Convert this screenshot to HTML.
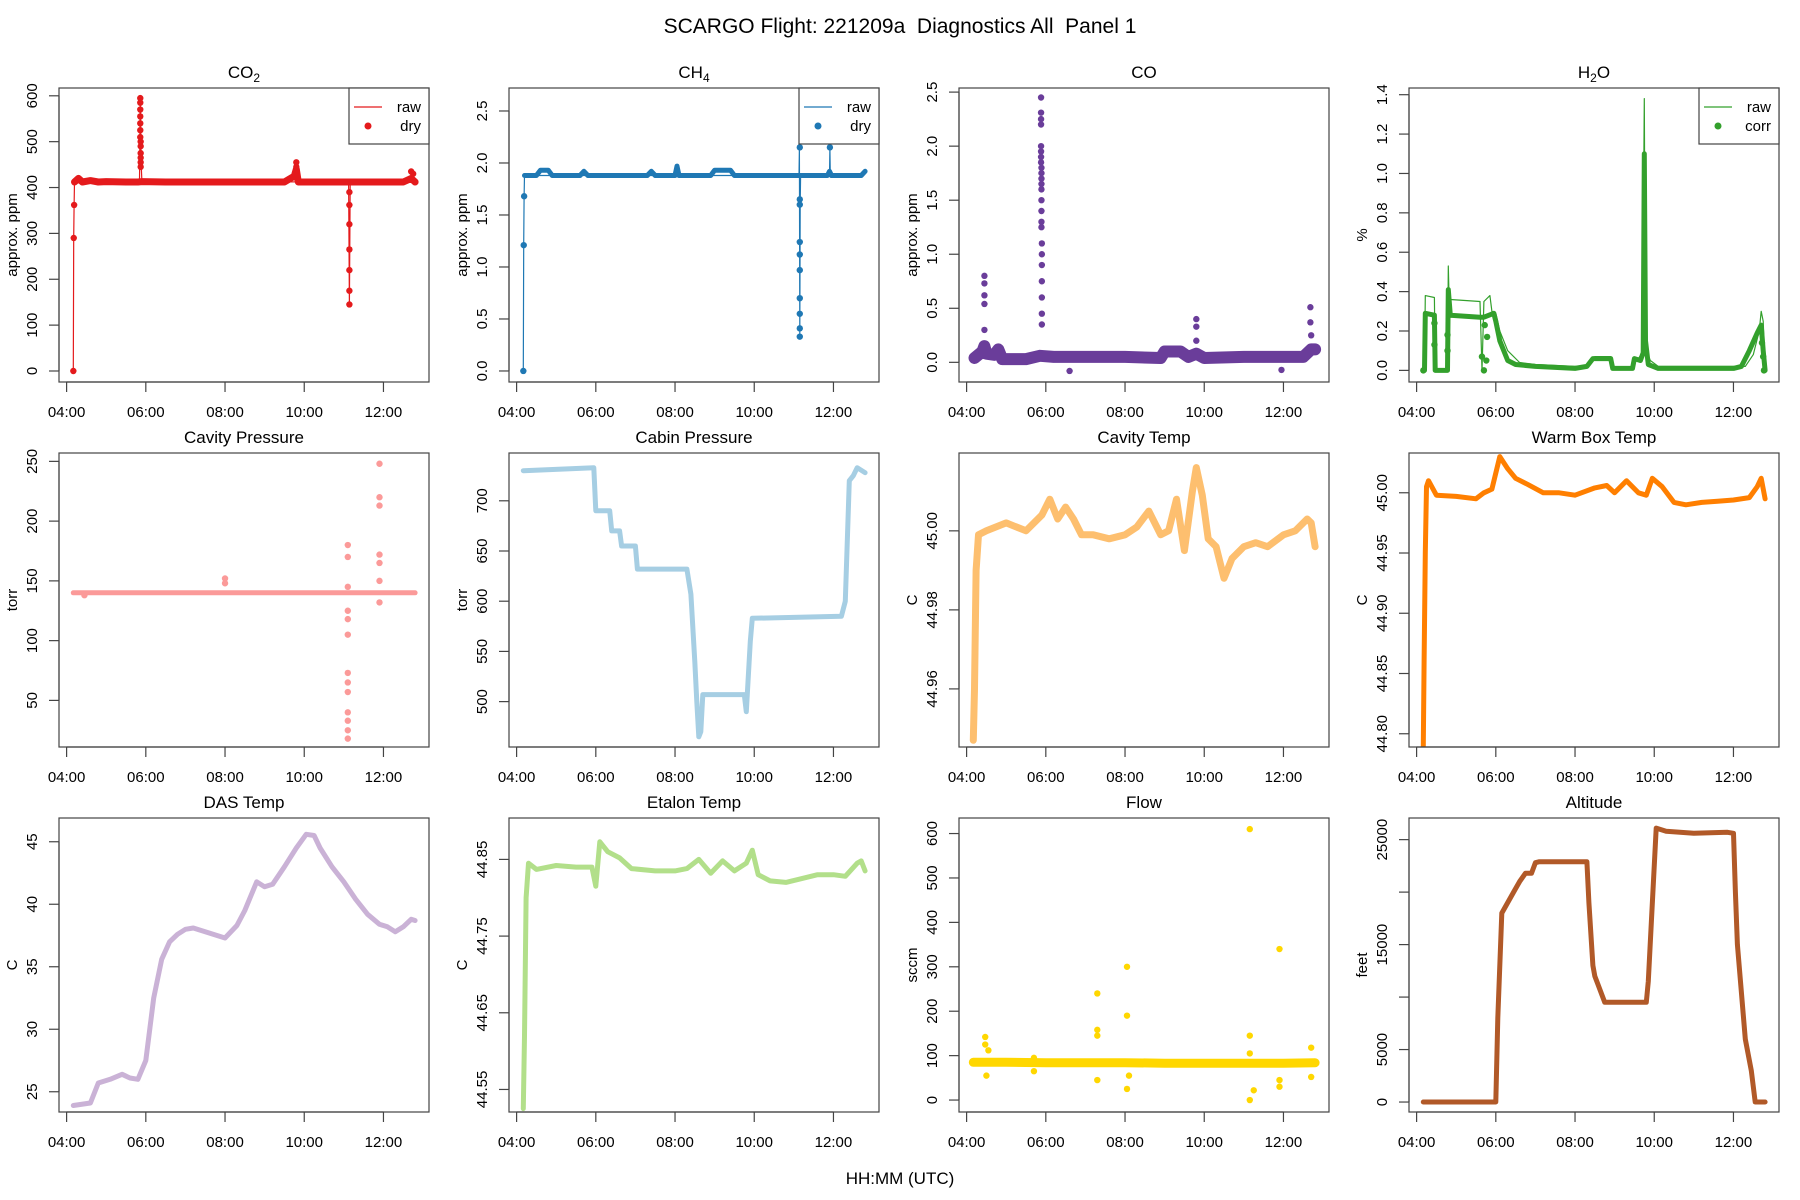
<!DOCTYPE html>
<html><head><meta charset="utf-8"><title>SCARGO Diagnostics</title>
<style>
html,body{margin:0;padding:0;background:#fff;}
svg{display:block;font-family:"Liberation Sans",Arial,sans-serif;}
</style></head>
<body>
<svg id="chart" width="1800" height="1200" viewBox="0 0 1800 1200" xmlns="http://www.w3.org/2000/svg">
<rect x="0" y="0" width="1800" height="1200" fill="#fff"/>
<text x="900" y="33" font-size="21" text-anchor="middle" style="white-space:pre" xml:space="preserve">SCARGO Flight: 221209a  Diagnostics All  Panel 1</text>
<text x="900" y="1184" font-size="17" text-anchor="middle">HH:MM (UTC)</text>
</svg>
<script>
// ---- shared x-axis data ----
const xTickHours = [4, 6, 8, 10, 12];
const xTickLabels = ["04:00", "06:00", "08:00", "10:00", "12:00"];

// ---- CO2 ----
const co2Times  = [4.2,4.3,4.4,4.6,4.8,5.0,5.5,5.8,5.9,6.5,7.3,8.0,9.0,9.5,9.75,9.8,9.85,10.5,11.1,11.2,11.5,12.0,12.5,12.7,12.8];
const co2Values = [412,420,412,415,412,413,412,412,413,412,412,412,412,412,425,440,412,412,412,412,412,412,412,420,412];
const co2RawTimes  = [4.17,4.18,4.19,4.2,5.84,5.86,5.88,5.9,11.12,11.14,11.16,11.18];
const co2RawValues = [0,290,362,412,412,595,455,413,412,145,412,412];
const co2PtTimes  = [4.17,4.18,4.19,5.86,5.86,5.86,5.86,5.86,5.86,5.86,5.87,5.87,5.87,5.87,5.87,5.87,11.14,11.14,11.14,11.14,11.14,11.14,11.14,9.8,9.8,12.7,12.75];
const co2PtValues = [0,290,362,595,585,570,555,540,525,510,500,490,475,465,455,445,145,175,220,265,320,362,390,455,445,435,430];

// ---- CH4 ----
const ch4Times  = [4.2,4.5,4.6,4.8,4.9,5.6,5.7,5.8,7.3,7.4,7.5,8.0,8.05,8.1,8.9,9.0,9.4,9.5,11.1,11.2,11.85,11.9,11.95,12.7,12.8];
const ch4Values = [1.88,1.88,1.93,1.93,1.88,1.88,1.92,1.88,1.88,1.92,1.88,1.88,1.97,1.88,1.88,1.93,1.93,1.88,1.88,1.88,1.88,1.92,1.88,1.88,1.92];
const ch4RawTimes  = [4.17,4.18,4.19,4.2,11.13,11.14,11.15,11.16,11.17,11.9,11.91,11.92];
const ch4RawValues = [0,1.21,1.68,1.88,1.88,2.15,0.33,1.6,1.88,1.88,2.15,1.88];
const ch4PtTimes  = [4.17,4.18,4.19,11.15,11.15,11.15,11.15,11.15,11.15,11.15,11.15,11.15,11.15,11.91];
const ch4PtValues = [0,1.21,1.68,0.33,0.41,0.55,0.7,0.97,1.12,1.24,1.6,1.65,2.15,2.15];

// ---- CO ----
const coTimes  = [4.2,4.4,4.45,4.5,4.7,4.8,4.9,5.5,5.85,6.2,7.0,8.0,8.9,9.0,9.4,9.6,9.8,10.0,11.0,11.9,12.5,12.7,12.8];
const coValues = [0.04,0.1,0.15,0.08,0.07,0.12,0.03,0.03,0.06,0.05,0.05,0.05,0.04,0.1,0.1,0.05,0.08,0.04,0.05,0.05,0.05,0.12,0.12];
const coPtTimes  = [4.45,4.45,4.45,4.45,4.45,5.88,5.88,5.88,5.88,5.88,5.88,5.88,5.88,5.89,5.89,5.89,5.89,5.89,5.89,5.89,5.89,5.89,5.9,5.9,5.9,5.9,5.9,5.9,5.9,9.8,9.8,9.8,12.68,12.68,12.7,6.6,11.95];
const coPtValues = [0.8,0.73,0.62,0.54,0.3,2.45,2.31,2.25,2.2,2.0,1.95,1.9,1.85,1.8,1.75,1.7,1.65,1.6,1.5,1.4,1.3,1.25,1.1,1.0,0.9,0.75,0.6,0.45,0.35,0.4,0.33,0.2,0.51,0.37,0.25,-0.08,-0.07];

// ---- H2O ----
const h2oRawTimes  = [4.17,4.2,4.22,4.45,4.47,4.5,4.78,4.8,4.82,4.85,5.6,5.65,5.7,5.85,5.9,6.0,6.1,6.3,6.6,7.0,8.0,8.3,8.5,8.9,9.0,9.4,9.5,9.6,9.7,9.75,9.77,9.8,9.9,10.1,11.0,12.0,12.3,12.5,12.65,12.7,12.75,12.8];
const h2oRawValues = [0,0,0.38,0.37,0.0,0.0,0.0,0.53,0.36,0.36,0.35,0.0,0.35,0.38,0.3,0.29,0.2,0.1,0.04,0.03,0.02,0.02,0.07,0.07,0.01,0.01,0.06,0.06,0.09,1.38,0.5,0.1,0.05,0.02,0.02,0.02,0.02,0.08,0.2,0.3,0.25,0.0];
const h2oTimes  = [4.17,4.2,4.22,4.45,4.47,4.5,4.78,4.8,4.85,5.6,5.65,5.7,5.95,6.0,6.1,6.3,6.5,7.0,8.0,8.3,8.45,8.9,8.95,9.45,9.5,9.65,9.72,9.75,9.78,9.85,10.1,11.0,12.0,12.2,12.4,12.6,12.7,12.75,12.8];
const h2oValues = [0,0,0.29,0.28,0.0,0.0,0.0,0.41,0.28,0.27,0.27,0.27,0.29,0.25,0.15,0.05,0.03,0.02,0.01,0.02,0.06,0.06,0.01,0.01,0.06,0.05,0.09,1.1,0.15,0.03,0.01,0.01,0.01,0.02,0.1,0.19,0.23,0.1,0.0];
const h2oPtTimes  = [4.17,4.45,4.45,4.78,4.78,5.65,5.7,5.72,5.78,5.76,12.72,12.75,12.77];
const h2oPtValues = [0.0,0.24,0.13,0.1,0.18,0.07,0.0,0.23,0.17,0.05,0.14,0.07,0.0];

// ---- Cavity Pressure ----
const cavPTimes  = [4.17,6.0,8.0,10.0,12.8];
const cavPValues = [140,140,140,140,140];
const cavPPtTimes  = [4.45,8.0,8.0,11.1,11.1,11.1,11.1,11.1,11.1,11.1,11.1,11.1,11.1,11.1,11.1,11.1,11.9,11.9,11.9,11.9,11.9,11.9,11.9];
const cavPPtValues = [138,152,148,180,170,145,125,118,105,73,65,57,40,33,25,18,248,220,213,172,165,150,132];

// ---- Cabin Pressure ----
const cabTimes  = [4.17,5.95,6.0,6.05,6.35,6.4,6.6,6.65,7.0,7.05,8.3,8.4,8.5,8.55,8.6,8.65,8.7,8.8,9.75,9.8,9.9,9.95,12.2,12.3,12.4,12.5,12.6,12.8];
const cabValues = [730,733,690,690,690,670,670,655,655,632,632,607,540,500,465,470,507,507,507,490,560,583,585,600,720,725,733,728];

// ---- Cavity Temp ----
const cavTTimes  = [4.17,4.2,4.24,4.3,4.5,5.0,5.5,5.9,6.1,6.3,6.5,6.7,6.9,7.2,7.6,8.0,8.3,8.6,8.9,9.1,9.3,9.5,9.7,9.8,9.95,10.1,10.3,10.5,10.7,11.0,11.3,11.6,12.0,12.3,12.6,12.7,12.8];
const cavTValues = [44.947,44.96,44.99,44.999,45.0,45.002,45.0,45.004,45.008,45.003,45.006,45.003,44.999,44.999,44.998,44.999,45.001,45.005,44.999,45.0,45.008,44.995,45.01,45.016,45.009,44.998,44.996,44.988,44.993,44.996,44.997,44.996,44.999,45.0,45.003,45.002,44.996];

// ---- Warm Box Temp ----
const wbTimes  = [4.17,4.19,4.22,4.25,4.3,4.5,5.0,5.5,5.7,5.9,6.1,6.3,6.5,6.8,7.2,7.6,8.0,8.5,8.8,9.0,9.3,9.6,9.8,9.95,10.2,10.5,10.8,11.2,11.6,12.0,12.4,12.6,12.7,12.8];
const wbValues = [44.79,44.86,44.95,45.005,45.01,44.998,44.997,44.995,45.0,45.003,45.03,45.02,45.012,45.007,45.0,45.0,44.998,45.004,45.006,45.0,45.01,45.0,44.998,45.012,45.005,44.992,44.99,44.992,44.993,44.994,44.996,45.005,45.012,44.995];

// ---- DAS Temp ----
const dasTimes  = [4.17,4.6,4.8,5.1,5.4,5.6,5.8,6.0,6.2,6.4,6.6,6.8,7.0,7.2,7.5,7.7,8.0,8.3,8.5,8.8,9.0,9.2,9.5,9.8,10.05,10.25,10.4,10.7,11.0,11.3,11.6,11.9,12.1,12.3,12.5,12.7,12.8];
const dasValues = [23.9,24.1,25.7,26.0,26.4,26.1,26.0,27.5,32.5,35.6,37.0,37.6,38.0,38.1,37.8,37.6,37.3,38.3,39.5,41.8,41.4,41.6,43.0,44.5,45.6,45.5,44.5,43.0,41.8,40.4,39.2,38.4,38.2,37.8,38.2,38.8,38.7];

// ---- Etalon Temp ----
const etTimes  = [4.17,4.2,4.24,4.3,4.5,5.0,5.5,5.9,6.0,6.1,6.3,6.6,6.9,7.5,8.0,8.3,8.6,8.9,9.2,9.5,9.8,9.95,10.1,10.4,10.8,11.2,11.6,12.0,12.3,12.6,12.7,12.8];
const etValues = [44.525,44.62,44.8,44.845,44.837,44.842,44.84,44.84,44.815,44.873,44.86,44.852,44.838,44.835,44.835,44.838,44.85,44.832,44.848,44.835,44.845,44.862,44.83,44.822,44.82,44.825,44.83,44.83,44.828,44.845,44.848,44.835];

// ---- Flow ----
const flowTimes  = [4.17,5.0,6.0,7.0,8.0,9.0,10.0,11.0,12.0,12.8];
const flowValues = [85,85,84,84,84,83,83,83,83,84];
const flowPtTimes  = [4.47,4.47,4.5,4.55,5.7,5.7,7.3,7.3,7.3,7.3,8.05,8.05,8.05,8.1,11.15,11.15,11.15,11.15,11.25,11.9,11.9,11.9,12.7,12.7];
const flowPtValues = [142,125,55,112,95,65,240,158,145,45,300,190,25,55,610,145,105,0,22,340,45,30,118,52];

// ---- Altitude ----
const altTimes  = [4.17,6.0,6.05,6.15,6.3,6.45,6.6,6.75,6.9,7.0,7.1,8.3,8.35,8.45,8.5,8.6,8.75,9.8,9.85,10.05,10.3,11.0,11.85,12.0,12.05,12.1,12.3,12.45,12.55,12.8];
const altValues = [0,0,8000,18000,19000,20000,21000,21800,21800,22800,22900,22900,19000,13000,12000,11000,9500,9500,11500,26100,25800,25600,25700,25600,20000,15000,6000,3000,0,0];

// ---- panel tick values ----
const co2Ticks = [0,100,200,300,400,500,600];
const ch4Ticks = [0,0.5,1,1.5,2,2.5];
const coTicks = [0,0.5,1,1.5,2,2.5];
const h2oTicks = [0,0.2,0.4,0.6,0.8,1,1.2,1.4];
const cavPTicks = [50,100,150,200,250];
const cabTicks = [500,550,600,650,700];
const cavTTicks = [44.96,44.98,45.0];
const wbTicks = [44.80,44.85,44.90,44.95,45.00];
const dasTicks = [25,30,35,40,45];
const etTicks = [44.55,44.65,44.75,44.85];
const flowTicks = [0,100,200,300,400,500,600];
const altTicks = [0,5000,10000,15000,20000,25000];
const altTickLabels = ["0","5000","","15000","","25000"];

const NS = "http://www.w3.org/2000/svg";
const svg = document.getElementById("chart");
const PW = 370, PH = 294;
const colL = [59, 509, 959, 1409];
const rowT = [88, 453, 818];
const XMIN = 3.808, XMAX = 13.15;

function mk(tag, attrs, parent) {
  const e = document.createElementNS(NS, tag);
  for (const k in attrs) e.setAttribute(k, attrs[k]);
  (parent || svg).appendChild(e);
  return e;
}
function fmt(v, dec) { return dec >= 0 ? v.toFixed(dec) : String(v); }

function panel(o) {
  const L = colL[o.col], T = rowT[o.row], B = T + PH, R = L + PW;
  const g = mk("g", {});
  
  
  const sx = t => L + (t - XMIN) / (XMAX - XMIN) * PW;
  const sy = v => B - (v - o.ymin) / (o.ymax - o.ymin) * PH;
  const tt = mk("text", {x: L + PW / 2, y: T - 10, "font-size": 17, "text-anchor": "middle"}, g);
  
  
  if (o.sub) {
    tt.appendChild(document.createTextNode(o.title));
    const ts = mk("tspan", {"font-size": 12, dy: 4}, tt);
    ts.textContent = o.sub;
    const t3 = mk("tspan", {dy: -4}, tt);
    t3.textContent = o.after || "";
  } else tt.textContent = o.title;
  const cid = "clip-" + o.name;
  const cp = mk("clipPath", {id: cid}, g);
  mk("rect", {x: L, y: T, width: PW, height: PH}, cp);
  const dg = mk("g", {"clip-path": "url(#" + cid + ")"}, g);
  if (o.rawT) {
    const pts = o.rawT.map((t, i) => sx(t).toFixed(1) + "," + sy(o.rawV[i]).toFixed(1)).join(" ");
    const pl = mk("polyline", {points: pts, fill: "none", stroke: o.color, "stroke-width": 1.2, "stroke-linejoin": "round"}, dg);
    
    
  }
  const pts = o.t.map((t, i) => sx(t).toFixed(1) + "," + sy(o.v[i]).toFixed(1)).join(" ");
  const pl = mk("polyline", {points: pts, fill: "none", stroke: o.color, "stroke-width": o.w, "stroke-linejoin": "round", "stroke-linecap": "round"}, dg);
  
  
  if (o.pt) {
    o.pt.forEach((t, i) => {
      const c = mk("circle", {cx: sx(t), cy: sy(o.pv[i]), r: 3.2, fill: o.color}, dg);
      
      
    });
  }
  const fr = mk("rect", {x: L, y: T, width: PW, height: PH, fill: "none", stroke: "#444", "stroke-width": 1.2}, g);
  
  
  const xa = mk("g", {}, g);
  
  
  mk("line", {x1: sx(xTickHours[0]), x2: sx(xTickHours[xTickHours.length - 1]), y1: B, y2: B, stroke: "#444", "stroke-width": 1.2}, xa);
  xTickHours.forEach((h, i) => {
    mk("line", {x1: sx(h), x2: sx(h), y1: B, y2: B + 10, stroke: "#444", "stroke-width": 1.2}, xa);
    const tx = mk("text", {x: sx(h), y: B + 35, "font-size": 15, "text-anchor": "middle"}, xa);
    
    
    tx.textContent = xTickLabels[i];
  });
  const ya = mk("g", {}, g);
  
  
  const tk = o.ticks;
  mk("line", {x1: L, x2: L, y1: sy(tk[0]), y2: sy(tk[tk.length - 1]), stroke: "#444", "stroke-width": 1.2}, ya);
  tk.forEach((v, i) => {
    const y = sy(v);
    mk("line", {x1: L - 10, x2: L, y1: y, y2: y, stroke: "#444", "stroke-width": 1.2}, ya);
    const lab = o.tickLabels ? o.tickLabels[i] : fmt(v, o.dec);
    if (lab === "") return;
    const tx = mk("text", {x: L - 22, y: y, "font-size": 15, "text-anchor": "middle", transform: "rotate(-90 " + (L - 22) + " " + y + ")"}, ya);
    
    
    tx.textContent = lab;
  });
  const yt = mk("text", {x: L - 42, y: T + PH / 2, "font-size": 15, "text-anchor": "middle", transform: "rotate(-90 " + (L - 42) + " " + (T + PH / 2) + ")"}, g);
  
  
  yt.textContent = o.ylab;
  if (o.legend) {
    const lw = 80;
    const lg = mk("g", {}, g);
    
    
    mk("rect", {x: R - lw, y: T, width: lw, height: 56, fill: "#fff", stroke: "#444", "stroke-width": 1.2}, lg);
    mk("line", {x1: R - lw + 5, x2: R - lw + 33, y1: T + 19, y2: T + 19, stroke: o.color, "stroke-width": 1.3}, lg);
    mk("circle", {cx: R - lw + 19, cy: T + 38, r: 3.5, fill: o.color}, lg);
    const a = mk("text", {x: R - 8, y: T + 24, "font-size": 15, "text-anchor": "end"}, lg);
    
    
    a.textContent = o.legend[0];
    const b = mk("text", {x: R - 8, y: T + 43, "font-size": 15, "text-anchor": "end"}, lg);
    
    
    b.textContent = o.legend[1];
  }
}

panel({name: "co2", row: 0, col: 0, title: "CO", sub: "2", ylab: "approx. ppm", color: "#E41A1C", ymin: -24, ymax: 617, ticks: co2Ticks, dec: 0, rawT: co2RawTimes, rawV: co2RawValues, t: co2Times, v: co2Values, w: 7, pt: co2PtTimes, pv: co2PtValues, legend: ["raw", "dry"]});
panel({name: "ch4", row: 0, col: 1, title: "CH", sub: "4", ylab: "approx. ppm", color: "#1F78B4", ymin: -0.106, ymax: 2.721, ticks: ch4Ticks, dec: 1, rawT: ch4RawTimes, rawV: ch4RawValues, t: ch4Times, v: ch4Values, w: 5, pt: ch4PtTimes, pv: ch4PtValues, legend: ["raw", "dry"]});
panel({name: "co", row: 0, col: 2, title: "CO", ylab: "approx. ppm", color: "#6A3D9A", ymin: -0.182, ymax: 2.538, ticks: coTicks, dec: 1, t: coTimes, v: coValues, w: 12, pt: coPtTimes, pv: coPtValues});
panel({name: "h2o", row: 0, col: 3, title: "H", sub: "2", after: "O", ylab: "%", color: "#33A02C", ymin: -0.059, ymax: 1.434, ticks: h2oTicks, dec: 1, rawT: h2oRawTimes, rawV: h2oRawValues, t: h2oTimes, v: h2oValues, w: 5, pt: h2oPtTimes, pv: h2oPtValues, legend: ["raw", "corr"]});
panel({name: "cavity-pressure", row: 1, col: 0, title: "Cavity Pressure", ylab: "torr", color: "#FB9A99", ymin: 11, ymax: 257, ticks: cavPTicks, dec: 0, t: cavPTimes, v: cavPValues, w: 5, pt: cavPPtTimes, pv: cavPPtValues});
panel({name: "cabin-pressure", row: 1, col: 1, title: "Cabin Pressure", ylab: "torr", color: "#A6CEE3", ymin: 454.8, ymax: 747.6, ticks: cabTicks, dec: 0, t: cabTimes, v: cabValues, w: 5});
panel({name: "cavity-temp", row: 1, col: 2, title: "Cavity Temp", ylab: "C", color: "#FDBF6F", ymin: 44.9453, ymax: 45.0197, ticks: cavTTicks, dec: 2, t: cavTTimes, v: cavTValues, w: 7});
panel({name: "warm-box-temp", row: 1, col: 3, title: "Warm Box Temp", ylab: "C", color: "#FF7F00", ymin: 44.789, ymax: 45.033, ticks: wbTicks, dec: 2, t: wbTimes, v: wbValues, w: 5});
panel({name: "das-temp", row: 2, col: 0, title: "DAS Temp", ylab: "C", color: "#CAB2D6", ymin: 23.38, ymax: 46.9, ticks: dasTicks, dec: 0, t: dasTimes, v: dasValues, w: 5});
panel({name: "etalon-temp", row: 2, col: 1, title: "Etalon Temp", ylab: "C", color: "#B2DF8A", ymin: 44.5206, ymax: 44.904, ticks: etTicks, dec: 2, t: etTimes, v: etValues, w: 5});
panel({name: "flow", row: 2, col: 2, title: "Flow", ylab: "sccm", color: "#FFD700", ymin: -26.9, ymax: 635, ticks: flowTicks, dec: 0, t: flowTimes, v: flowValues, w: 9, pt: flowPtTimes, pv: flowPtValues});
panel({name: "altitude", row: 2, col: 3, title: "Altitude", ylab: "feet", color: "#B15928", ymin: -949, ymax: 27061, ticks: altTicks, tickLabels: altTickLabels, dec: 0, t: altTimes, v: altValues, w: 5});
</script>
</body></html>
